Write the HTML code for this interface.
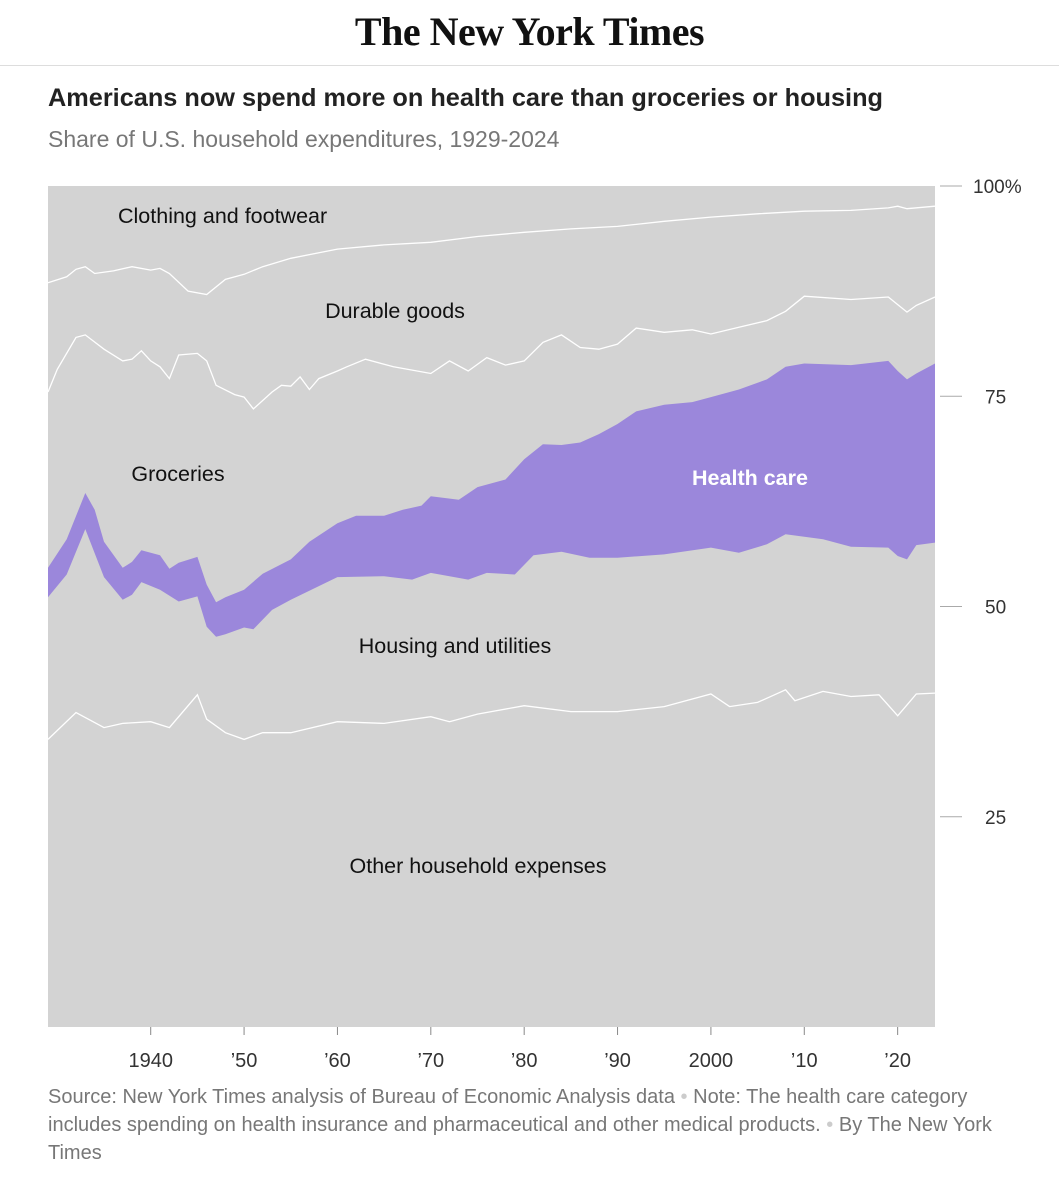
<!DOCTYPE html>
<html><head><meta charset="utf-8"><style>
body{margin:0;background:#fff;width:1059px;height:1200px;overflow:hidden;font-family:"Liberation Sans",Arial,sans-serif;position:relative}
.logo{position:absolute;top:8px;left:0;width:1059px;text-align:center;font-family:"Liberation Serif",serif;font-weight:bold;font-size:40px;color:#111;letter-spacing:-0.5px}
.rule{position:absolute;top:65px;left:0;width:1059px;height:1px;background:#ddd}
.title{position:absolute;left:48px;top:84px;font-size:25.3px;font-weight:bold;color:#222}
.sub{position:absolute;left:48px;top:126px;font-size:23px;color:#777}
.foot{position:absolute;left:48px;top:1083px;width:975px;font-size:20px;line-height:28px;color:#777}
svg{position:absolute;left:0;top:0}
</style></head><body>
<div class="logo">The New York Times</div>
<div class="rule"></div>
<div class="title">Americans now spend more on health care than groceries or housing</div>
<div class="sub">Share of U.S. household expenditures, 1929-2024</div>
<svg id="chart" width="1059" height="1200"></svg>
<div class="foot">Source: New York Times analysis of Bureau of Economic Analysis data <span style="color:#ccc">•</span> Note: The health care category includes spending on health insurance and pharmaceutical and other medical products. <span style="color:#ccc">•</span> By The New York Times</div>
<script>
const otherYears=[1929,1932,1935,1937,1940,1942,1945,1946,1948,1950,1952,1955,1960,1965,1970,1972,1975,1980,1985,1990,1995,2000,2002,2005,2008,2009,2012,2015,2018,2020,2021,2022,2024];
const otherTop=[34.2,37.4,35.6,36.1,36.3,35.6,39.5,36.6,35,34.2,35,35,36.3,36.1,36.9,36.3,37.2,38.2,37.5,37.5,38.1,39.6,38.1,38.6,40.1,38.8,39.9,39.3,39.5,37,38.3,39.6,39.7];
const housingYears=[1929,1931,1933,1935,1937,1938,1939,1941,1943,1945,1946,1947,1948,1950,1951,1953,1955,1960,1965,1968,1970,1974,1976,1979,1981,1984,1987,1990,1995,2000,2003,2006,2008,2012,2015,2019,2020,2021,2022,2024];
const housingTop=[51.1,53.8,59.2,53.5,50.8,51.4,52.9,52,50.6,51.2,47.6,46.4,46.7,47.5,47.3,49.6,50.8,53.5,53.6,53.2,54,53.2,54,53.8,56.1,56.5,55.8,55.8,56.2,57,56.4,57.4,58.6,58,57.1,57,56,55.6,57.3,57.6];
const healthYears=[1929,1931,1933,1934,1935,1937,1938,1939,1941,1942,1943,1945,1946,1947,1948,1950,1952,1955,1957,1960,1962,1965,1967,1969,1970,1973,1975,1978,1980,1982,1984,1986,1988,1990,1992,1995,1998,2000,2003,2006,2008,2010,2015,2019,2020,2021,2022,2024];
const healthTop=[54.6,58,63.5,61.5,57.7,54.6,55.3,56.7,56.1,54.5,55.2,55.9,52.6,50.5,51.1,52,53.9,55.6,57.7,59.9,60.8,60.8,61.5,62,63.1,62.7,64.2,65.1,67.5,69.3,69.2,69.5,70.5,71.7,73.2,74,74.3,74.9,75.8,77,78.5,78.9,78.7,79.2,78,77,77.7,78.9];
const groceryYears=[1929,1930,1932,1933,1935,1937,1938,1939,1940,1941,1942,1943,1945,1946,1947,1949,1950,1951,1953,1954,1955,1956,1957,1958,1960,1961,1963,1966,1970,1972,1974,1976,1978,1980,1982,1984,1986,1988,1990,1992,1995,1998,2000,2003,2006,2008,2010,2015,2019,2020,2021,2022,2024];
const groceryTop=[75.5,78.2,82,82.3,80.6,79.2,79.4,80.4,79.2,78.5,77.1,79.9,80.1,79.2,76.3,75.2,74.9,73.5,75.5,76.3,76.2,77.3,75.8,77.1,78,78.5,79.4,78.5,77.7,79.2,78,79.6,78.7,79.2,81.4,82.3,80.8,80.6,81.2,83.1,82.6,82.9,82.4,83.2,84,85.1,86.9,86.5,86.8,85.9,85,85.8,86.8];
const clothYears=[1929,1931,1932,1933,1934,1936,1938,1940,1941,1942,1944,1946,1948,1950,1952,1955,1960,1965,1970,1975,1980,1985,1990,1995,2000,2005,2010,2015,2019,2020,2021,2024];
const clothTop=[88.5,89.2,90.1,90.4,89.6,89.9,90.4,90,90.2,89.6,87.5,87.1,88.9,89.5,90.4,91.4,92.5,93,93.3,94,94.5,94.9,95.2,95.8,96.3,96.7,97,97.1,97.4,97.6,97.3,97.6];
const xTicks=[1940,1950,1960,1970,1980,1990,2000,2010,2020];
const xTickLabels=["1940","’50","’60","’70","’80","’90","2000","’10","’20"];
const yTicks=[25,50,75,100];
const yTickLabels=["25","50","75","100%"];

const X0=48,X1=935,Y0=1027,Y1=186;
const x=yr=>X0+(yr-1929)/(2024-1929)*(X1-X0);
const y=v=>Y0-v/100*(Y0-Y1);
const svg=document.getElementById('chart');
const NS='http://www.w3.org/2000/svg';
function mk(t,a){const e=document.createElementNS(NS,t);for(const k in a)e.setAttribute(k,a[k]);svg.appendChild(e);return e;}
function pts(yrs,vals){return yrs.map((yr,i)=>x(yr).toFixed(1)+','+y(vals[i]).toFixed(1));}

const bg=mk('rect',{x:X0,y:Y1,width:X1-X0,height:Y0-Y1,fill:'#d3d3d3'});



const hp=pts(healthYears,healthTop).concat(pts(housingYears,housingTop).reverse());
const health=mk('polygon',{points:hp.join(' '),fill:'#9b87db'});



[[otherYears,otherTop,'other-boundary-line'],[groceryYears,groceryTop,'groceries-boundary-line'],[clothYears,clothTop,'clothing-boundary-line']].forEach(s=>{
  const l=mk('polyline',{points:pts(s[0],s[1]).join(' '),fill:'none',stroke:'#fff','stroke-width':1.3});
  
  
});

yTicks.forEach((v,i)=>{
  const t=mk('line',{x1:940,x2:962,y1:y(v),y2:y(v),stroke:'#aaa','stroke-width':1});
  
  
  const tx=mk('text',{x:v==100?973:985,y:y(v)+7,'font-size':19,fill:'#333'});
  tx.textContent=yTickLabels[i];
  
  
});
xTicks.forEach((v,i)=>{
  const t=mk('line',{x1:x(v),x2:x(v),y1:Y0,y2:Y0+8,stroke:'#888','stroke-width':1});
  
  
  const tx=mk('text',{x:x(v),y:1067,'font-size':20,fill:'#333','text-anchor':'middle'});
  tx.textContent=xTickLabels[i];
  
  
});

[["Clothing and footwear",118,223,'start','#111','normal','clothing-label'],["Durable goods",395,318,'middle','#111','normal','durable-goods-label'],["Groceries",178,481,'middle','#111','normal','groceries-label'],["Health care",750,485,'middle','#fff','bold','health-care-label'],["Housing and utilities",455,653,'middle','#111','normal','housing-label'],["Other household expenses",478,873,'middle','#111','normal','other-label']].forEach(d=>{
  const t=mk('text',{x:d[1],y:d[2],'font-size':21.5,fill:d[4],'font-weight':d[5],'text-anchor':d[3]});
  t.textContent=d[0];
  
  
});
</script>
</body></html>
